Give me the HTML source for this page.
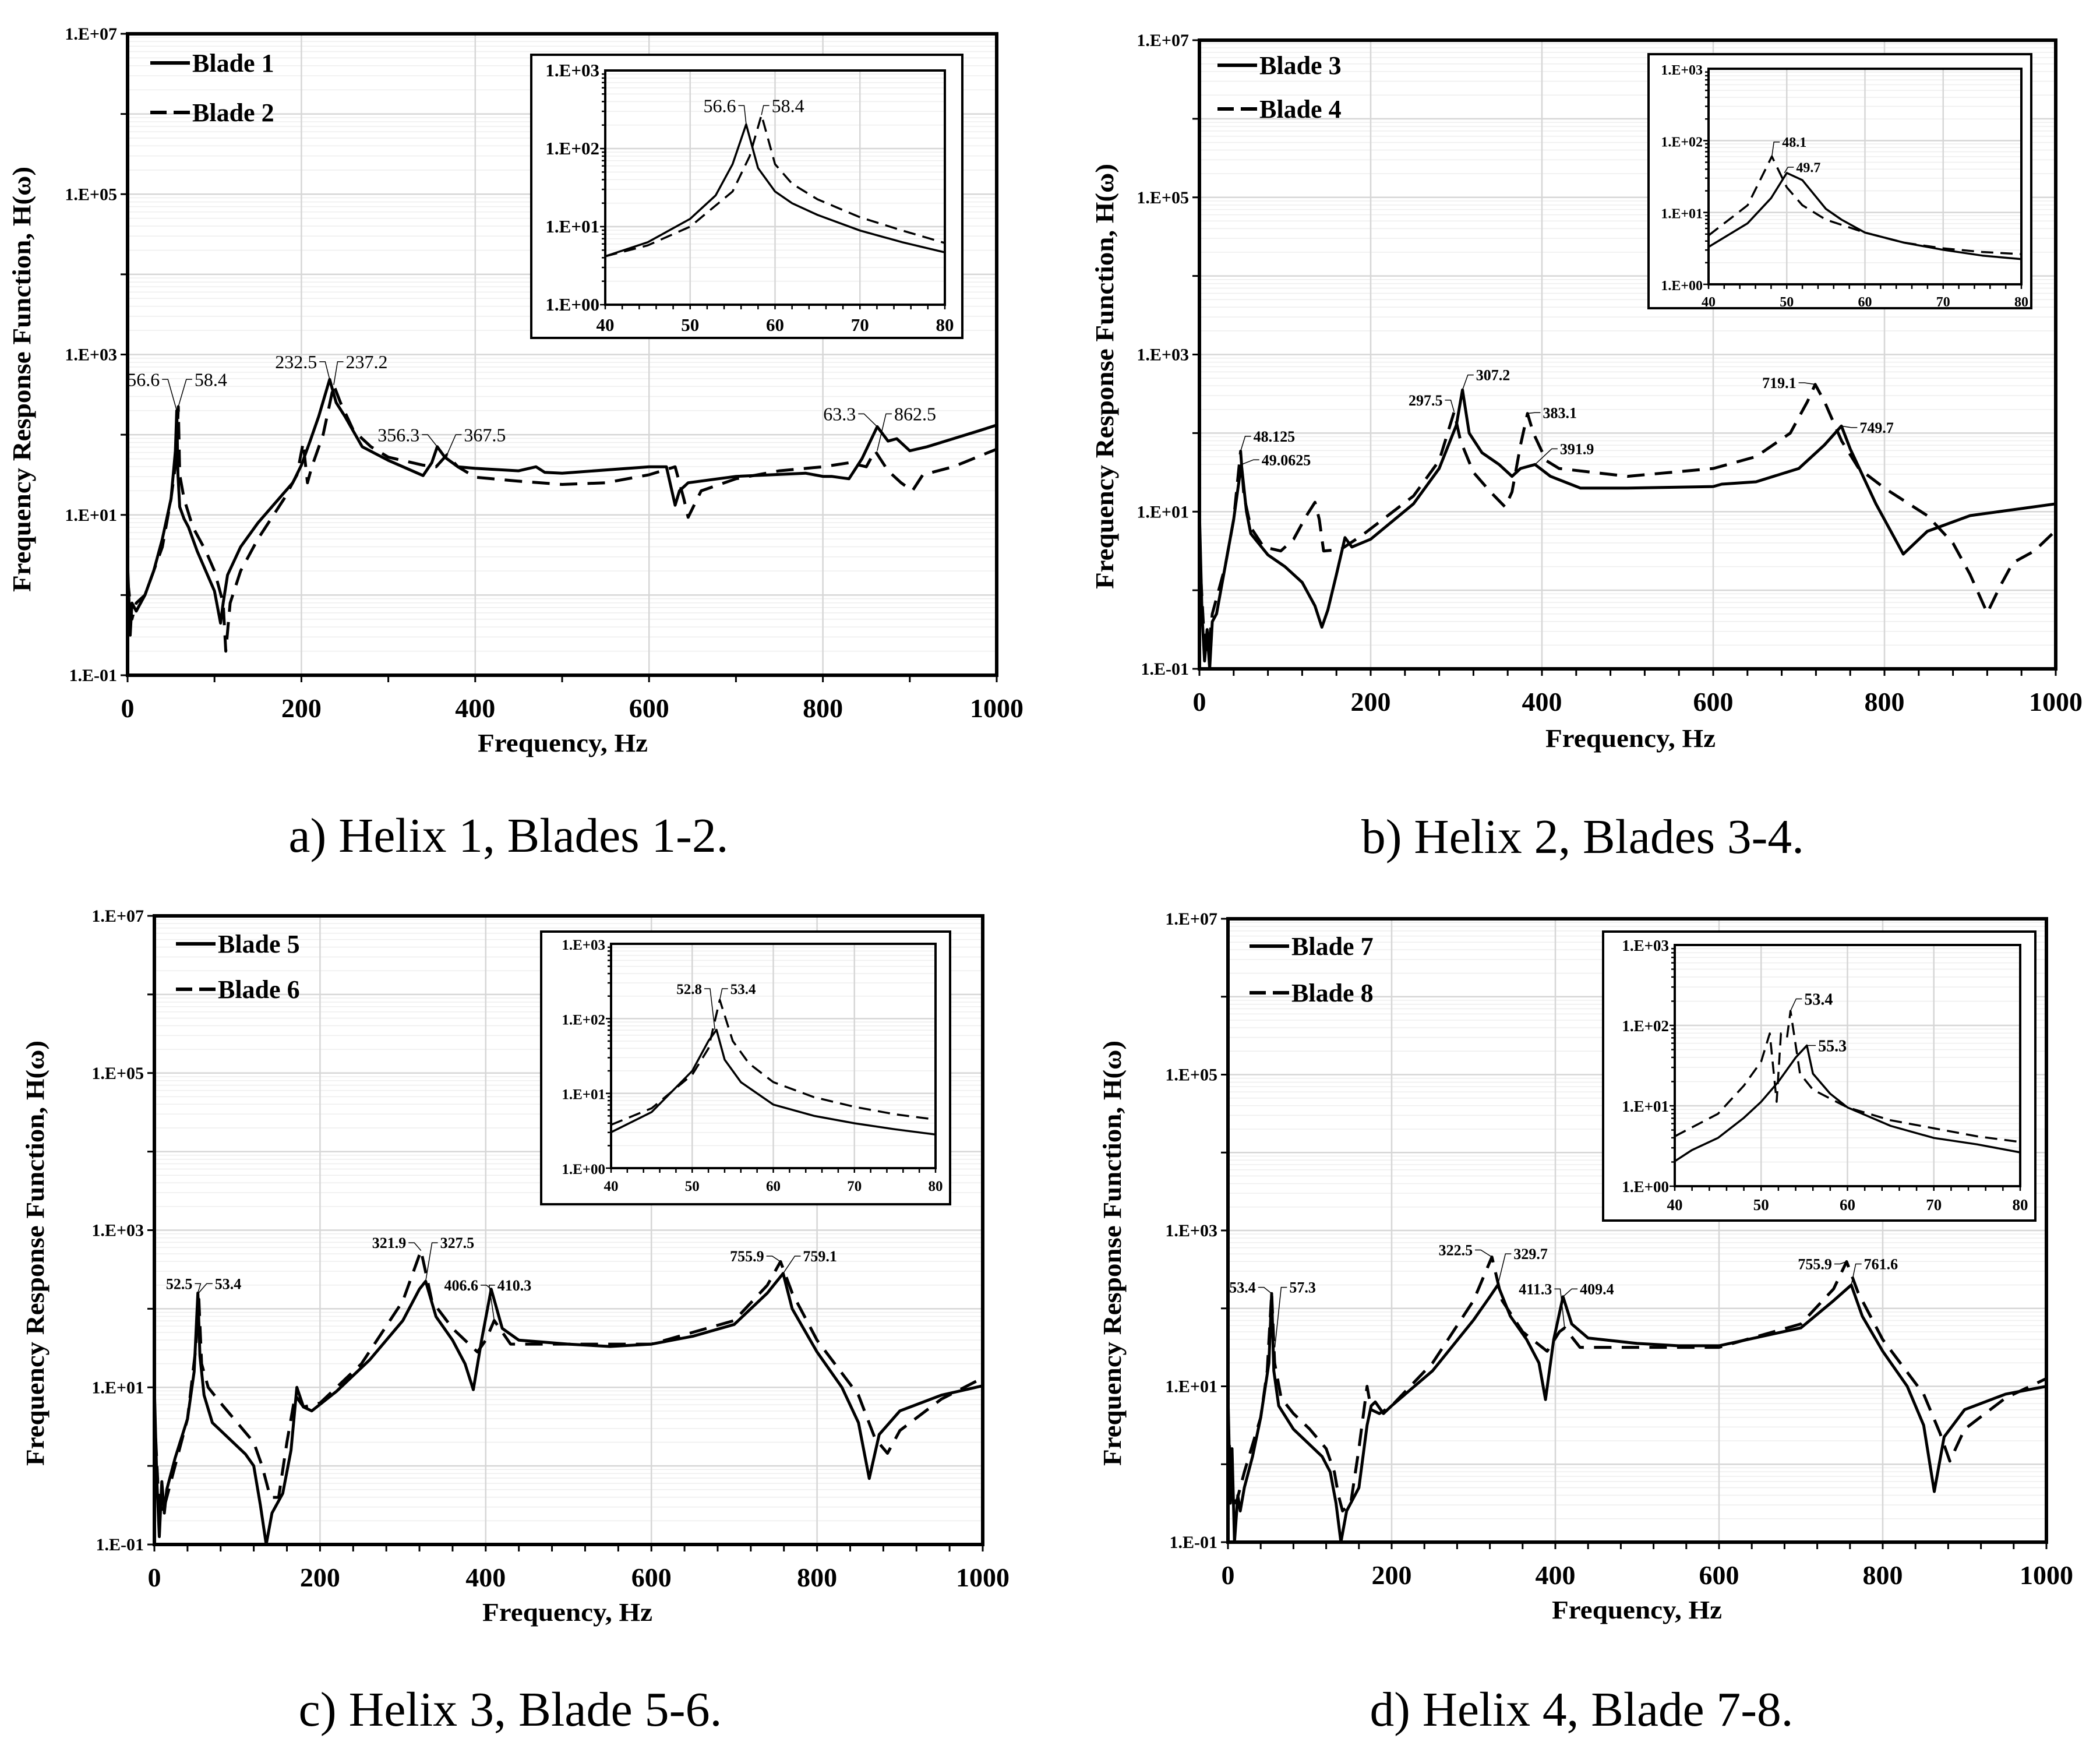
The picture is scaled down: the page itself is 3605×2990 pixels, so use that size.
<!DOCTYPE html>
<html><head><meta charset="utf-8"><style>
html,body{margin:0;padding:0;background:#fff;}
svg{display:block;}
text{font-family:"Liberation Serif",serif;fill:#000;}
</style></head><body>
<svg id="fig" width="3605" height="2990" viewBox="0 0 3605 2990" xmlns="http://www.w3.org/2000/svg"></svg>
<script>
// ---------- DATA (frequency Hz, log10 H) ----------
const blade1Freq = [0,3,5,10,20,30,40,50,55,56.6,58,60,65,70,80,90,100,107,110,115,130,150,170,190,200,210,220,232.5,240,250,270,300,340,350,356.3,365,380,400,450,470,480,500,600,620,630,635,645,700,780,800,810,830,845,862.5,875,885,900,920,950,980,1000];
const blade1LogH = [0.4,-0.5,-0.1,-0.2,0,0.3,0.7,1.2,1.8,2.3,1.5,1.1,0.95,0.85,0.55,0.3,0.05,-0.35,-0.1,0.25,0.6,0.9,1.15,1.4,1.62,1.92,2.23,2.69,2.4,2.23,1.85,1.68,1.49,1.65,1.85,1.72,1.6,1.58,1.55,1.6,1.53,1.52,1.6,1.6,1.12,1.3,1.4,1.48,1.52,1.48,1.48,1.45,1.7,2.1,1.92,1.95,1.8,1.85,1.95,2.05,2.12];
const blade2Freq = [0,5,10,20,40,50,56,58.4,60,65,75,90,100,110,113,118,130,150,180,195,202,207,212,225,237.2,245,260,280,300,340,355,367.5,380,400,450,500,550,600,630,640,645,660,700,750,800,830,850,860,875,890,903,915,950,1000];
const blade2LogH = [0.2,-0.3,-0.1,0,0.6,1.2,1.7,2.35,1.5,1.2,0.85,0.55,0.3,-0.1,-0.7,-0.1,0.3,0.7,1.2,1.5,1.9,1.4,1.6,2.0,2.62,2.4,2.05,1.85,1.72,1.62,1.6,1.75,1.6,1.47,1.42,1.38,1.4,1.5,1.6,1.2,0.97,1.3,1.45,1.55,1.6,1.65,1.6,1.8,1.55,1.4,1.3,1.5,1.6,1.82];
const insetAFreq = [40,45,50,53,55,56.6,58,60,62,65,70,75,80];
const insetA1LogH = [0.62,0.8,1.1,1.4,1.8,2.31,1.75,1.45,1.3,1.15,0.95,0.8,0.67];
const insetA2Freq = [40,45,50,55,57,58.4,60,62,65,70,75,80];
const insetA2LogH = [0.62,0.76,1.0,1.45,1.9,2.43,1.8,1.55,1.35,1.12,0.95,0.79];

const blade3Freq = [0,3,6,9,12,15,20,30,40,45,49.06,55,60,80,100,120,135,143,150,160,170,178,200,250,280,300,307.2,315,330,350,365,375,391.9,410,445,500,600,610,650,700,730,749.7,760,790,822,850,900,1000];
const blade3LogH = [1.0,-0.3,-0.9,-0.5,-1,-0.4,-0.3,0.3,0.9,1.3,1.6,1.0,0.72,0.45,0.3,0.1,-0.2,-0.47,-0.25,0.2,0.67,0.55,0.65,1.1,1.55,2.1,2.55,2.0,1.75,1.6,1.45,1.55,1.6,1.45,1.3,1.3,1.32,1.35,1.38,1.55,1.85,2.09,1.8,1.1,0.46,0.75,0.95,1.1];
const blade4Freq = [0,5,10,15,30,40,48.125,52,60,75,95,110,125,135,140,145,165,190,250,280,297.5,305,320,340,357,365,375,383.1,390,405,420,500,600,650,690,710,719.1,730,750,770,800,850,880,900,920,935,950,975,1000];
const blade4LogH = [0.5,-0.5,-0.8,-0.3,0.3,0.9,1.77,1.2,0.8,0.55,0.5,0.65,0.95,1.12,0.9,0.5,0.52,0.7,1.2,1.65,2.27,1.9,1.5,1.25,1.06,1.25,1.85,2.25,2.0,1.65,1.55,1.45,1.55,1.7,2.0,2.4,2.62,2.4,1.9,1.55,1.3,0.95,0.6,0.2,-0.29,0.05,0.35,0.5,0.76];
const insetB3Freq = [40,45,48,50,52,55,57,60,65,70,75,80];
const insetB3LogH = [0.52,0.85,1.2,1.55,1.45,1.05,0.9,0.72,0.58,0.48,0.4,0.35];
const insetB4Freq = [40,45,48.1,50,52,55,60,65,70,75,80];
const insetB4LogH = [0.68,1.1,1.78,1.35,1.1,0.9,0.72,0.58,0.5,0.45,0.42];

const blade5Freq = [0,3,6,9,12,15,25,40,48,52.5,55,60,70,90,110,120,128,135,142,155,165,172,180,190,220,260,300,320,327.5,340,360,375,385,395,406.6,420,440,500,550,600,650,700,740,759.1,770,800,830,850,863,875,900,950,1000];
const blade5LogH = [1.0,-0.2,-0.9,-0.2,-0.6,-0.3,0.1,0.6,1.2,2.2,1.4,0.9,0.55,0.35,0.15,0.0,-0.5,-1.0,-0.6,-0.35,0.2,1.0,0.75,0.7,0.95,1.35,1.85,2.25,2.35,1.9,1.6,1.3,0.97,1.6,2.25,1.75,1.6,1.55,1.52,1.55,1.65,1.8,2.2,2.45,2.0,1.45,1.0,0.55,-0.16,0.4,0.7,0.9,1.02];
const blade6Freq = [0,5,10,20,40,50,53.4,57,65,80,100,120,130,140,150,160,170,180,200,250,300,321.9,335,360,390,400,410.3,430,500,600,700,740,755.9,770,800,850,870,885,900,950,1000];
const blade6LogH = [0.7,-0.4,-0.6,-0.2,0.6,1.5,2.2,1.3,1.0,0.8,0.55,0.3,0.0,-0.4,-0.4,0.3,0.9,0.75,0.8,1.3,2.1,2.74,2.1,1.75,1.45,1.6,1.85,1.55,1.55,1.55,1.85,2.3,2.6,2.2,1.6,0.9,0.35,0.16,0.45,0.85,1.12];
const insetC5Freq = [40,45,50,52,53,54,56,60,65,70,75,80];
const insetC5LogH = [0.48,0.75,1.3,1.7,1.85,1.45,1.15,0.85,0.7,0.6,0.52,0.45];
const insetC6Freq = [40,45,50,52,53.4,55,57,60,65,70,75,80];
const insetC6LogH = [0.58,0.8,1.25,1.6,2.25,1.7,1.4,1.15,0.95,0.82,0.72,0.65];

const blade7Freq = [0,3,5,8,12,15,20,30,40,50,53.4,56,62,80,100,115,125,132,138,145,160,170,175,180,190,200,250,300,320,329.7,345,365,380,388,398,409.4,420,440,500,550,600,700,740,761.6,775,800,830,850,863,875,900,950,1000];
const blade7LogH = [0.9,-0.5,0.2,-1,-0.4,-0.6,-0.3,0.1,0.6,1.3,2.19,1.2,0.75,0.45,0.25,0.1,-0.1,-0.5,-1.0,-0.6,-0.3,0.5,0.75,0.8,0.65,0.75,1.2,1.85,2.15,2.3,1.9,1.6,1.3,0.83,1.6,2.15,1.8,1.62,1.55,1.52,1.52,1.75,2.1,2.3,1.9,1.45,1.0,0.5,-0.35,0.35,0.7,0.9,1.0];
const blade8Freq = [0,5,10,20,40,48,53.4,57,65,80,100,120,130,135,140,150,160,170,175,185,200,250,300,322.5,335,360,390,405,411.3,430,500,600,700,740,755.9,770,800,850,870,882,900,950,1000];
const blade8LogH = [0.6,-0.4,-0.5,-0.1,0.6,1.2,2.2,1.3,0.85,0.65,0.45,0.2,-0.1,-0.4,-0.6,-0.5,0.2,1.0,0.7,0.65,0.75,1.3,2.1,2.66,2.1,1.7,1.45,1.7,1.75,1.5,1.5,1.5,1.8,2.25,2.6,2.2,1.6,0.9,0.4,0.04,0.45,0.85,1.1];
const insetD7Freq = [40,42,45,48,50,52,54,55.3,56,58,60,65,70,75,80];
const insetD7LogH = [0.31,0.45,0.6,0.85,1.05,1.3,1.6,1.75,1.4,1.15,0.98,0.75,0.6,0.52,0.42];
const insetD8Freq = [40,45,48,50,51,51.8,52.3,53,53.4,54.5,56,60,65,70,75,80];
const insetD8LogH = [0.62,0.9,1.25,1.55,1.9,1.05,1.9,1.85,2.18,1.4,1.2,0.98,0.82,0.72,0.62,0.55];

const mainYTicks = ["1.E-01","1.E+01","1.E+03","1.E+05","1.E+07"];
const mainXTicks = [0,200,400,600,800,1000];
const insetYTicks = ["1.E+00","1.E+01","1.E+02","1.E+03"];
const insetXTicks = [40,50,60,70,80];

// annotations: [label, textHz, textLog, anchor, peakHz, peakLog]
const annotA = [["56.6",37,2.69,"end",56.6,2.3],["58.4",77,2.69,"start",58.4,2.35],["232.5",218,2.91,"end",232.5,2.69],["237.2",251,2.91,"start",237.2,2.62],["356.3",336,2.0,"end",356.3,1.85],["367.5",387,2.0,"start",367.5,1.75],["63.3",838,2.26,"end",862.5,2.1],["862.5",882,2.26,"start",862.5,1.8]];
const annotAIn = [["56.6",55.4,2.55,"end",56.6,2.31],["58.4",59.6,2.55,"start",58.4,2.43]];
const annotB = [["48.125",63,1.96,"start",48.1,1.77],["49.0625",72.6,1.66,"start",49.06,1.6],["297.5",284,2.42,"end",297.5,2.27],["307.2",323,2.74,"start",307.2,2.55],["383.1",401,2.26,"start",383.1,2.25],["391.9",421,1.8,"start",391.9,1.6],["719.1",697,2.64,"end",719.1,2.62],["749.7",771,2.07,"start",749.7,2.09]];
const annotBIn = [["48.1",49.4,1.98,"start",48.1,1.78],["49.7",51.2,1.63,"start",49.7,1.55]];
const annotC = [["52.5",46,2.32,"end",52.5,2.2],["53.4",73,2.32,"start",53.4,2.2],["321.9",304,2.84,"end",321.9,2.74],["327.5",345,2.84,"start",327.5,2.35],["406.6",391,2.3,"end",406.6,2.25],["410.3",414,2.3,"start",410.3,1.85],["755.9",736,2.67,"end",755.9,2.6],["759.1",783,2.67,"start",759.1,2.45]];
const annotCIn = [["52.8",51.2,2.4,"end",52.8,1.85],["53.4",54.7,2.4,"start",53.4,2.25]];
const annotD = [["53.4",34,2.27,"end",53.4,2.19],["57.3",75,2.27,"start",57.3,1.5],["322.5",299,2.75,"end",322.5,2.66],["329.7",349,2.7,"start",329.7,2.3],["411.3",396,2.25,"end",411.3,1.75],["409.4",430,2.25,"start",409.4,2.15],["755.9",738,2.57,"end",755.9,2.6],["761.6",777,2.57,"start",761.6,2.3]];
const annotDIn = [["53.4",55,2.33,"start",53.4,2.18],["55.3",56.6,1.75,"start",55.3,1.75]];

// ---------- DRAWING ----------
const NS = "http://www.w3.org/2000/svg";
const svg = document.getElementById("fig");
function mk(tag, attrs, parent, txt){
  const e = document.createElementNS(NS, tag);
  for (const k in attrs) e.setAttribute(k, attrs[k]);
  if (txt !== undefined) e.textContent = txt;
  (parent || svg).appendChild(e);
  return e;
}
function scales(b, x0, x1, y0, y1){
  return {
    x: v => b.l + (v - x0) / (x1 - x0) * (b.r - b.l),
    y: v => b.b - (v - y0) / (y1 - y0) * (b.b - b.t)
  };
}
function grid(g, b, s, x0, x1, y0, y1, xMajors){
  for (let d = y0; d < y1; d++) {
    for (let k = 2; k <= 9; k++) {
      const yy = s.y(d + Math.log10(k));
      const ln = mk("line", {x1:b.l, x2:b.r, y1:yy, y2:yy, stroke:"#eeeeee", "stroke-width":1.5}, g);
      
      
    }
  }
  for (let d = y0 + 1; d < y1; d++) {
    const yy = s.y(d);
    const ln = mk("line", {x1:b.l, x2:b.r, y1:yy, y2:yy, stroke:"#d6d6d6", "stroke-width":2.5}, g);
    
    
  }
  xMajors.forEach(v => {
    if (v <= x0 || v >= x1) return;
    const xx = s.x(v);
    const ln = mk("line", {x1:xx, x2:xx, y1:b.t, y2:b.b, stroke:"#d6d6d6", "stroke-width":2.5}, g);
    
    
  });
}
function series(g, s, fx, fy, dashed, w, name){
  const pts = fx.map((f, i) => s.x(f).toFixed(1) + "," + s.y(fy[i]).toFixed(1)).join(" ");
  const p = mk("polyline", {points:pts, fill:"none", stroke:"#000", "stroke-width":w, "stroke-linejoin":"round", "stroke-dasharray": dashed ? (w*6)+","+(w*3.5) : "none"}, g);
  
  
}
function annotate(g, s, list, fs, bold, name){
  list.forEach(a => {
    const tx = s.x(a[1]), ty = s.y(a[2]);
    const t = mk("text", {x:tx, y:ty + fs*0.35, "font-size":fs, "text-anchor":a[3], "font-weight": bold ? "bold" : "normal"}, g, a[0]);
    
    
    const dir = a[3] === "end" ? 1 : -1;
    const sx = tx + dir*4, ex = tx + dir*14;
    const px = s.x(a[4]), py = s.y(a[5]);
    const ln = mk("polyline", {points: sx+","+ty+" "+ex+","+ty+" "+px+","+py, fill:"none", stroke:"#000", "stroke-width":1.5}, g);
    
    
  });
}
function panel(cfg){
  const g = mk("g", {});
  
  
  const b = cfg.box, s = scales(b, 0, 1000, -1, 7);
  grid(g, b, s, 0, 1000, -1, 7, mainXTicks);
  for (let v = 0; v <= 1000; v += cfg.minorX) {
    const xx = s.x(v);
    const tk = mk("line", {x1:xx, x2:xx, y1:b.b, y2:b.b + 12, stroke:"#000", "stroke-width":3}, g);
    
    
  }
  for (let d = -1; d <= 7; d++) {
    const yy = s.y(d);
    const tk = mk("line", {x1:b.l - 12, x2:b.l, y1:yy, y2:yy, stroke:"#000", "stroke-width":3}, g);
    
    
  }
  mainYTicks.forEach((lab, i) => {
    const t = mk("text", {x:b.l - 18, y:s.y(-1 + 2*i) + 10, "font-size":30, "font-weight":"bold", "text-anchor":"end"}, g, lab);
    
    
  });
  mainXTicks.forEach(v => {
    const t = mk("text", {x:s.x(v), y:b.b + 72, "font-size":46, "font-weight":"bold", "text-anchor":"middle"}, g, String(v));
    
    
  });
  series(g, s, cfg.d1x, cfg.d1y, false, 5, 'series-' + cfg.leg[0].toLowerCase().replace(' ', '-'));
  series(g, s, cfg.d2x, cfg.d2y, true, 5, 'series-' + cfg.leg[1].toLowerCase().replace(' ', '-'));
  annotate(g, s, cfg.ann, cfg.annFs, cfg.annBold, 'peak');
  const fr = mk("rect", {x:b.l, y:b.t, width:b.r - b.l, height:b.b - b.t, fill:"none", stroke:"#000", "stroke-width":6}, g);
  
  
  cfg.leg.forEach((lab, i) => {
    const ly = cfg.legY[i];
    const ln = mk("line", {x1:cfg.legX, x2:cfg.legX + 68, y1:ly, y2:ly, stroke:"#000", "stroke-width":6, "stroke-dasharray": i ? "28,12" : "none"}, g);
    
    
    const t = mk("text", {x:cfg.legX + 72, y:ly + 15, "font-size":44, "font-weight":"bold"}, g, lab);
    
    
  });
  const xt = mk("text", {x:cfg.xTitle[0], y:cfg.xTitle[1], "font-size":44, "font-weight":"bold", "text-anchor":"middle", textLength:292, lengthAdjust:"spacingAndGlyphs"}, g, "Frequency, Hz");
  
  
  const yt = mk("text", {x:0, y:0, "font-size":44, "font-weight":"bold", "text-anchor":"middle", textLength:730, lengthAdjust:"spacingAndGlyphs", transform:"translate(" + cfg.yTitle[0] + "," + cfg.yTitle[1] + ") rotate(-90)"}, g, "Frequency Response Function, H(\u03C9)");
  
  
  const cp = mk("text", {x:cfg.cap[0], y:cfg.cap[1], "font-size":84, "text-anchor":"middle", textLength:cfg.cap[2], lengthAdjust:"spacingAndGlyphs"}, g, cfg.caption);
  
  
  const ig = mk("g", {}, g);
  
  
  const o = cfg.inOuter;
  const ob = mk("rect", {x:o[0], y:o[1], width:o[2] - o[0], height:o[3] - o[1], fill:"#fff", stroke:"#000", "stroke-width":4}, ig);
  
  
  const ib = cfg.inBox, is = scales(ib, 40, 80, 0, 3);
  grid(ig, ib, is, 40, 80, 0, 3, insetXTicks);
  for (let v = 40; v <= 80; v += 2) {
    const xx = is.x(v);
    const tk = mk("line", {x1:xx, x2:xx, y1:ib.b, y2:ib.b + 8, stroke:"#000", "stroke-width":2.5}, ig);
    
    
  }
  for (let d = 0; d < 3; d++) for (let k = 1; k <= 9; k++) {
    const yy = is.y(d + Math.log10(k));
    const tk = mk("line", {x1:ib.l - (k === 1 ? 9 : 6), x2:ib.l, y1:yy, y2:yy, stroke:"#000", "stroke-width":2.5}, ig);
    
    
  }
  insetYTicks.forEach((lab, i) => {
    const t = mk("text", {x:ib.l - 10, y:is.y(i) + 10, "font-size":cfg.inFs, "font-weight":"bold", "text-anchor":"end"}, ig, lab);
    
    
  });
  insetXTicks.forEach(v => {
    const t = mk("text", {x:is.x(v), y:ib.b + cfg.inFs + 14, "font-size":cfg.inFs, "font-weight":"bold", "text-anchor":"middle"}, ig, String(v));
    
    
  });
  series(ig, is, cfg.i1x, cfg.i1y, false, 3.5, 'inset-series-solid');
  series(ig, is, cfg.i2x, cfg.i2y, true, 3.5, 'inset-series-dashed');
  annotate(ig, is, cfg.inAnn, cfg.inAnnFs, cfg.annBold, 'inset-peak');
  const ifr = mk("rect", {x:ib.l, y:ib.t, width:ib.r - ib.l, height:ib.b - ib.t, fill:"none", stroke:"#000", "stroke-width":4}, ig);
  
  
}

panel({name:"panel-a", box:{l:219,r:1711,t:58,b:1159}, minorX:100, d1x:blade1Freq, d1y:blade1LogH, d2x:blade2Freq, d2y:blade2LogH,
  ann:annotA, annFs:32, annBold:false, leg:["Blade 1","Blade 2"], legX:258, legY:[108,193],
  xTitle:[966,1290], yTitle:[52,651], cap:[873,1462,755], caption:"a) Helix 1, Blades 1-2.",
  inOuter:[912,94,1652,580], inBox:{l:1039,r:1622,t:121,b:523}, inFs:31, i1x:insetAFreq, i1y:insetA1LogH, i2x:insetA2Freq, i2y:insetA2LogH, inAnn:annotAIn, inAnnFs:32});
panel({name:"panel-b", box:{l:2059,r:3529,t:69,b:1148}, minorX:40, d1x:blade3Freq, d1y:blade3LogH, d2x:blade4Freq, d2y:blade4LogH,
  ann:annotB, annFs:26, annBold:true, leg:["Blade 3","Blade 4"], legX:2090, legY:[112,187],
  xTitle:[2799,1282], yTitle:[1911,646], cap:[2717,1464,760], caption:"b) Helix 2, Blades 3-4.",
  inOuter:[2830,93,3487,529], inBox:{l:2933,r:3470,t:118,b:488}, inFs:24, i1x:insetB3Freq, i1y:insetB3LogH, i2x:insetB4Freq, i2y:insetB4LogH, inAnn:annotBIn, inAnnFs:24});
panel({name:"panel-c", box:{l:265,r:1687,t:1572,b:2651}, minorX:40, d1x:blade5Freq, d1y:blade5LogH, d2x:blade6Freq, d2y:blade6LogH,
  ann:annotC, annFs:26, annBold:true, leg:["Blade 5","Blade 6"], legX:302, legY:[1620,1698],
  xTitle:[974,2782], yTitle:[75,2151], cap:[876,2962,727], caption:"c) Helix 3, Blade 5-6.",
  inOuter:[929,1599,1631,2067], inBox:{l:1049,r:1606,t:1620,b:2005}, inFs:25, i1x:insetC5Freq, i1y:insetC5LogH, i2x:insetC6Freq, i2y:insetC6LogH, inAnn:annotCIn, inAnnFs:25});
panel({name:"panel-d", box:{l:2108,r:3513,t:1577,b:2647}, minorX:40, d1x:blade7Freq, d1y:blade7LogH, d2x:blade8Freq, d2y:blade8LogH,
  ann:annotD, annFs:26, annBold:true, leg:["Blade 7","Blade 8"], legX:2145, legY:[1624,1704],
  xTitle:[2810,2778], yTitle:[1924,2151], cap:[2715,2962,727], caption:"d) Helix 4, Blade 7-8.",
  inOuter:[2752,1599,3494,2095], inBox:{l:2875,r:3468,t:1622,b:2036}, inFs:27, i1x:insetD7Freq, i1y:insetD7LogH, i2x:insetD8Freq, i2y:insetD8LogH, inAnn:annotDIn, inAnnFs:28});
</script>
</body></html>
